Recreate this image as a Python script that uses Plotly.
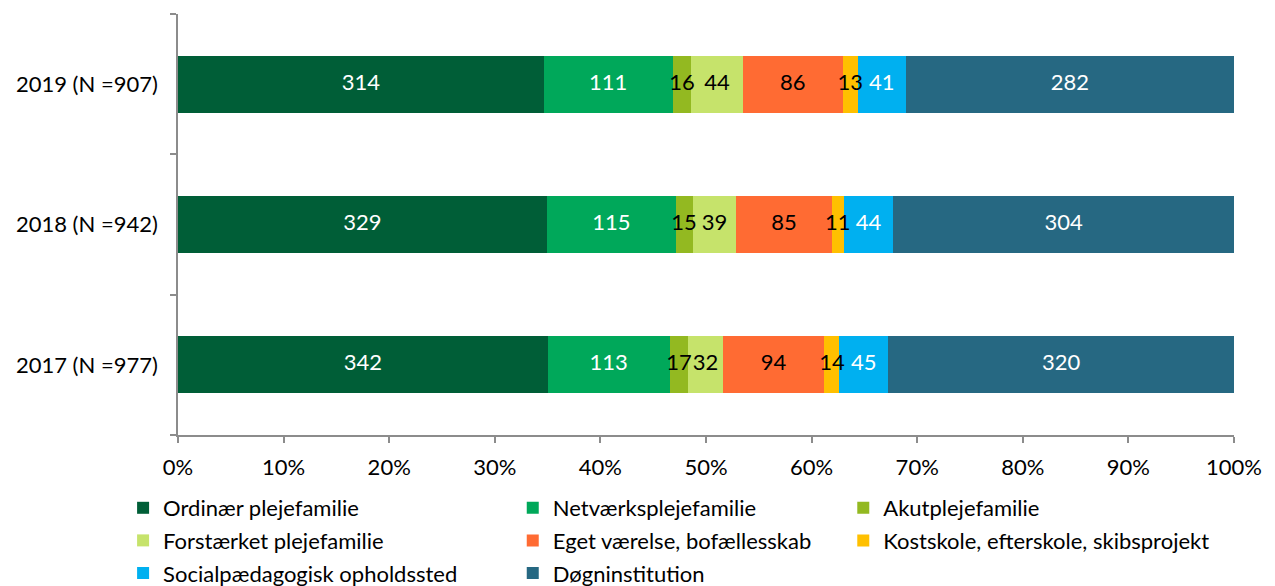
import plotly.graph_objects as go

years = ["2017 (N =977)", "2018 (N =942)", "2019 (N =907)"]
totals = [977, 942, 907]
categories = [
    "Ordinær plejefamilie",
    "Netværksplejefamilie",
    "Akutplejefamilie",
    "Forstærket plejefamilie",
    "Eget værelse, bofællesskab",
    "Kostskole, efterskole, skibsprojekt",
    "Socialpædagogisk opholdssted",
    "Døgninstitution",
]
# counts per category, order: 2017, 2018, 2019
ordinaer = [342, 329, 314]
netvaerk = [113, 115, 111]
akut = [17, 15, 16]
forstaerket = [32, 39, 44]
eget = [94, 85, 86]
kostskole = [14, 11, 13]
socialped = [45, 44, 41]
doegn = [320, 304, 282]
series = [ordinaer, netvaerk, akut, forstaerket, eget, kostskole, socialped, doegn]

colors = ["#005E37", "#00A85A", "#93B921", "#C6E36B", "#FF6B33", "#FFC000", "#00B0F0", "#266882"]
text_colors = ["white", "white", "black", "black", "black", "black", "white", "white"]
legend_ids = ["legend", "legend2", "legend3", "legend", "legend2", "legend3", "legend", "legend2"]

FONT = "Lato"
FS = 22

fig = go.Figure()
cum = [0.0, 0.0, 0.0]
label_traces = []
for i, (name, vals) in enumerate(zip(categories, series)):
    pct = [v / t * 100 for v, t in zip(vals, totals)]
    fig.add_trace(go.Bar(
        y=years, x=pct, orientation="h", name=name,
        marker=dict(color=colors[i], line=dict(width=0)),
        legend=legend_ids[i], legendgroup=name,
        hoverinfo="skip",
    ))
    mids = [c + p / 2 for c, p in zip(cum, pct)]
    cum = [c + p for c, p in zip(cum, pct)]
    label_traces.append(go.Scatter(
        x=mids, y=years, mode="text", text=[str(v) for v in vals],
        textposition="middle center",
        textfont=dict(color=text_colors[i], size=FS, family=FONT),
        showlegend=False, hoverinfo="skip", cliponaxis=False,
    ))
for tr in label_traces:
    fig.add_trace(tr)

leg_common = dict(
    orientation="v", yanchor="top", xanchor="left", y=-0.1235,
    font=dict(size=FS, family=FONT, color="black"),
    bgcolor="rgba(0,0,0,0)", tracegroupgap=1, itemwidth=30,
)

fig.update_layout(
    barmode="stack",
    bargap=0.594,
    width=1259, height=578,
    margin=dict(l=170, r=33, t=6, b=151, autoexpand=False),
    plot_bgcolor="white", paper_bgcolor="white",
    font=dict(family=FONT, size=FS, color="black"),
    legend=dict(x=-0.052, **leg_common),
    legend2=dict(x=0.317, **leg_common),
    legend3=dict(x=0.630, **leg_common),
    xaxis=dict(
        range=[0, 100], dtick=10, ticksuffix="%", showgrid=False,
        showline=True, linecolor="#8C8C8C", linewidth=1.5,
        ticks="outside", ticklen=6, tickcolor="#8C8C8C", tickwidth=1.5,
        tickfont=dict(size=FS, family=FONT), zeroline=False,
        ticklabelstandoff=6,
    ),
    yaxis=dict(
        showgrid=False, showline=True, linecolor="#8C8C8C", linewidth=1.5,
        ticks="outside", ticklen=6, tickcolor="#8C8C8C", tickwidth=1.5,
        tickson="boundaries", tickfont=dict(size=FS, family=FONT),
        range=[-0.5, 2.5], ticklabelstandoff=14,
    ),
)

fig.write_html("out.html")
